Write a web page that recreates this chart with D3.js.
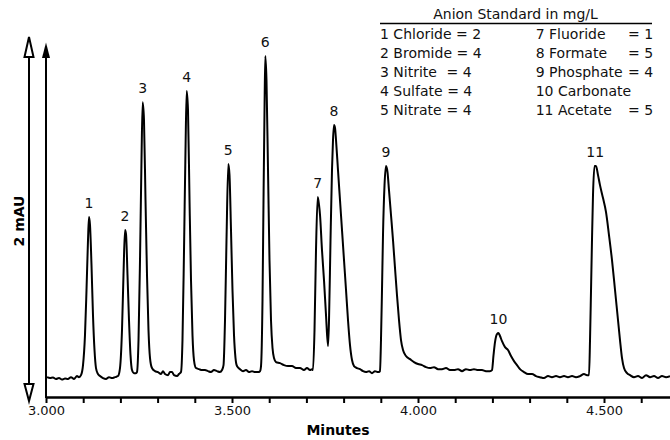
<!DOCTYPE html>
<html>
<head>
<meta charset="utf-8">
<script src="https://cdn.jsdelivr.net/npm/d3@7"></script>
<style>
  body { margin: 0; background: #fff; }
  svg { display: block; font-family: "DejaVu Sans", Verdana, sans-serif; }
</style>
</head>
<body>
<div id="chart-area"></div>
<script>
// chromatogram trace: [minutes, mAU]
const trace = [
  [3.0027,0.005],[3.0108,0],[3.0188,0.003],[3.0269,-0.005],[3.0349,0],[3.0430,-0.008],[3.0511,-0.003],[3.0591,-0.005],
  [3.0672,0.005],[3.0753,-0.005],[3.0833,0.011],[3.0887,0.005],
  [3.0941,0.016],[3.0995,0.071],[3.1048,0.236],[3.1089,0.484],[3.1129,0.758],[3.1156,0.885],[3.1183,0.841],[3.1223,0.621],
  [3.1263,0.346],[3.1304,0.154],[3.1344,0.055],[3.1398,0.022],[3.1452,0.011],
  [3.1532,0],[3.1613,-0.005],[3.1694,0.005],[3.1774,0],[3.1855,0.005],[3.1935,0.011],
  [3.1989,0.055],[3.2043,0.264],[3.2083,0.566],[3.2124,0.813],[3.2151,0.791],[3.2191,0.566],[3.2231,0.319],[3.2272,0.126],
  [3.2312,0.044],[3.2366,0.027],[3.2419,0.027],
  [3.2446,0.033],[3.2487,0.209],[3.2527,0.648],[3.2567,1.198],[3.2599,1.516],[3.2634,1.418],[3.2675,0.978],[3.2715,0.566],
  [3.2755,0.264],[3.2796,0.110],[3.2849,0.055],[3.2930,0.038],
  [3.3011,0.033],[3.3091,0.022],[3.3145,0.038],[3.3199,0.022],[3.3280,0.016],[3.3333,0.033],[3.3387,0.033],[3.3441,0.016],
  [3.3522,0.011],[3.3575,0.022],
  [3.3629,0.033],[3.3669,0.209],[3.3710,0.703],[3.3750,1.253],[3.3782,1.577],[3.3817,1.473],[3.3858,0.978],[3.3898,0.538],
  [3.3938,0.236],[3.3978,0.099],[3.4032,0.055],[3.4113,0.049],
  [3.4194,0.044],[3.4274,0.044],[3.4355,0.038],[3.4435,0.033],[3.4516,0.044],[3.4597,0.038],[3.4677,0.033],[3.4731,0.044],
  [3.4772,0.071],[3.4812,0.319],[3.4852,0.758],[3.4901,1.176],[3.4933,1.115],[3.4973,0.813],[3.5013,0.484],[3.5054,0.236],
  [3.5094,0.110],[3.5134,0.066],[3.5215,0.049],
  [3.5296,0.038],[3.5376,0.044],[3.5457,0.033],[3.5538,0.038],[3.5618,0.033],[3.5699,0.033],[3.5753,0.038],
  [3.5780,0.066],[3.5820,0.429],[3.5847,0.978],[3.5874,1.473],[3.5895,1.769],[3.5927,1.637],[3.5968,1.143],[3.6008,0.648],
  [3.6048,0.319],[3.6089,0.165],[3.6129,0.110],[3.6183,0.088],
  [3.6290,0.082],[3.6398,0.071],[3.6505,0.066],[3.6613,0.066],[3.6720,0.055],[3.6828,0.055],[3.6935,0.044],[3.7016,0.055],
  [3.7097,0.044],[3.7151,0.049],
  [3.7177,0.044],[3.7218,0.264],[3.7258,0.703],[3.7304,0.995],[3.7339,0.951],[3.7366,0.896],[3.7419,0.703],[3.7473,0.538],
  [3.7527,0.346],[3.7581,0.176],
  [3.7608,0.319],[3.7648,0.758],[3.7688,1.143],[3.7715,1.308],[3.7742,1.390],[3.7769,1.374],[3.7796,1.308],[3.7849,1.143],
  [3.7903,0.978],[3.7957,0.813],[3.8011,0.648],[3.8065,0.484],[3.8118,0.319],[3.8172,0.181],[3.8226,0.099],[3.8280,0.066],
  [3.8360,0.055],
  [3.8441,0.049],[3.8522,0.038],[3.8602,0.033],[3.8683,0.038],[3.8763,0.027],[3.8844,0.038],[3.8925,0.033],
  [3.8978,0.038],[3.9005,0.209],[3.9032,0.484],[3.9059,0.786],[3.9100,1.060],[3.9140,1.165],[3.9180,1.132],[3.9220,1.033],
  [3.9274,0.896],[3.9328,0.758],[3.9382,0.604],[3.9435,0.456],[3.9489,0.319],[3.9543,0.209],[3.9597,0.154],[3.9677,0.121],
  [3.9785,0.104],[3.9892,0.088],[4.0000,0.077],[4.0108,0.071],[4.0215,0.060],[4.0323,0.055],[4.0430,0.060],[4.0538,0.049],
  [4.0645,0.049],[4.0753,0.055],[4.0860,0.044],[4.0968,0.044],[4.1075,0.049],[4.1183,0.038],[4.1290,0.049],[4.1398,0.044],
  [4.1505,0.049],[4.1613,0.044],[4.1720,0.044],[4.1828,0.038],[4.1935,0.038],
  [4.1989,0.044],[4.2030,0.126],[4.2070,0.198],[4.2124,0.242],[4.2164,0.247],[4.2204,0.231],[4.2258,0.203],[4.2339,0.170],
  [4.2419,0.154],[4.2500,0.121],[4.2581,0.093],[4.2661,0.071],[4.2742,0.049],[4.2849,0.033],[4.2957,0.022],
  [4.3065,0.022],[4.3172,0.011],[4.3280,0.005],[4.3387,0],[4.3495,0.011],[4.3602,0.005],[4.3710,0.011],[4.3817,0.005],
  [4.3925,0.011],[4.4032,0.005],[4.4140,0.011],[4.4247,0.005],[4.4355,0.011],[4.4462,0.022],[4.4543,0.016],
  [4.4597,0.016],[4.4624,0.209],[4.4651,0.484],[4.4677,0.758],[4.4704,1.005],[4.4745,1.165],[4.4785,1.165],[4.4839,1.115],
  [4.4892,1.060],[4.4973,0.989],[4.5054,0.912],[4.5134,0.786],[4.5215,0.648],[4.5296,0.484],[4.5376,0.319],[4.5430,0.209],
  [4.5484,0.110],[4.5538,0.055],[4.5618,0.027],[4.5699,0.016],
  [4.5806,0.005],[4.5914,0.011],[4.6022,0],[4.6129,0.016],[4.6237,0.005],[4.6344,0.011],[4.6452,0],[4.6559,0.011],
  [4.6667,0.005],[4.6774,0.011]
];

const peakNumbers = ['1', '2', '3', '4', '5', '6', '7', '8', '9', '10', '11'];
const peakTimes = [3.1156, 3.2124, 3.2599, 3.3782, 3.4901, 3.5895, 3.7304, 3.7742, 3.9140, 4.2164, 4.4765];

const legendTitle = 'Anion Standard in mg/L';
const legendNames1 = ['1 Chloride', '2 Bromide', '3 Nitrite', '4 Sulfate', '5 Nitrate'];
const legendValues1 = ['2', '4', '4', '4', '4'];
const legendNames2 = ['7 Fluoride', '8 Formate', '9 Phosphate', '10 Carbonate', '11 Acetate'];
const legendValues2 = ['1', '5', '4', null, '5'];

const xTicks = [3.0, 3.1, 3.2, 3.3, 3.4, 3.5, 3.6, 3.7, 3.8, 3.9, 4.0, 4.1, 4.2, 4.3, 4.4, 4.5, 4.6];
const xLabelTicks = [3.0, 3.5, 4.0, 4.5];
const scaleBarMAU = 2;

const width = 670, height = 440;

const svg = d3.select('#chart-area')
  .append('svg')
  .attr('width', width)
  .attr('height', height);

const x = d3.scaleLinear()
  .domain([3.0, 4.6774])
  .range([46, 670]);

const y = d3.scaleLinear()
  .domain([-0.126, 1.874])
  .range([401, 37]);

const axisY = 397;

// X axis
const xAxis = d3.axisBottom(x)
  .tickValues(xTicks)
  .tickSize(6)
  .tickSizeOuter(0)
  .tickPadding(3)
  .tickFormat((d) => {
    return xLabelTicks.some(v => Math.abs(v - d) < 1e-6) ? d3.format('.3f')(d) : '';
  });

const gx = svg.append('g')
  .attr('transform', 'translate(0, ' + axisY + ')')
  .call(xAxis);

gx.select('.domain').attr('stroke', '#000').attr('stroke-width', 2.5);
gx.selectAll('.tick line').attr('stroke', '#000').attr('stroke-width', 2);
gx.selectAll('.tick text')
  .attr('font-family', '"DejaVu Sans", Verdana, sans-serif')
  .attr('font-size', '13px')
  .attr('fill', '#111');

// X label
svg.append('text')
  .attr('x', 338)
  .attr('y', 434.5)
  .attr('text-anchor', 'middle')
  .attr('font-size', '14px')
  .attr('font-weight', 'bold')
  .text('Minutes');

// Y axis line with filled arrow
const yAxisX = x(3.0);
svg.append('line')
  .attr('x1', yAxisX).attr('x2', yAxisX)
  .attr('y1', axisY + 1).attr('y2', 50)
  .attr('stroke', '#000')
  .attr('stroke-width', 2);
svg.append('path')
  .attr('d', `M${yAxisX},42.5 L${yAxisX - 4},58 L${yAxisX + 4},58 Z`)
  .attr('fill', '#000');

// scale bar (double arrow)
const barX = 29;
const barTop = y(y.domain()[0] + scaleBarMAU);
const barBottom = y(y.domain()[0]);
svg.append('line')
  .attr('x1', barX).attr('x2', barX)
  .attr('y1', barTop + 18).attr('y2', barBottom - 16)
  .attr('stroke', '#000')
  .attr('stroke-width', 2);
svg.append('path')
  .attr('d', `M${barX},${barTop} L${barX - 4.5},${barTop + 20} L${barX + 4.5},${barTop + 20} Z`)
  .attr('fill', '#fff')
  .attr('stroke', '#000')
  .attr('stroke-width', 2)
  .attr('stroke-linejoin', 'miter');
svg.append('path')
  .attr('d', `M${barX},${barBottom} L${barX - 4.5},${barBottom - 17} L${barX + 4.5},${barBottom - 17} Z`)
  .attr('fill', '#fff')
  .attr('stroke', '#000')
  .attr('stroke-width', 2)
  .attr('stroke-linejoin', 'miter');

svg.append('text')
  .attr('transform', 'translate(24, 221) rotate(-90)')
  .attr('text-anchor', 'middle')
  .attr('font-size', '14px')
  .attr('font-weight', 'bold')
  .text(scaleBarMAU + ' mAU');

// trace
const line = d3.line()
  .x(d => x(d[0]))
  .y(d => y(d[1]))
  .curve(d3.curveMonotoneX);

svg.append('path')
  .datum(trace)
  .attr('fill', 'none')
  .attr('stroke', '#000')
  .attr('stroke-width', 2)
  .attr('stroke-linejoin', 'round')
  .attr('d', line);

// peak labels
svg.selectAll('.peak-label')
  .data(peakNumbers)
  .enter()
  .append('text')
  .attr('class', 'peak-label')
  .attr('x', (d, i) => x(peakTimes[i]))
  .attr('y', (d, i) => {
    const near = trace.filter(p => Math.abs(p[0] - peakTimes[i]) < 0.006);
    return y(d3.max(near, p => p[1])) - 9;
  })
  .attr('text-anchor', 'middle')
  .attr('font-size', '14px')
  .attr('fill', '#111')
  .text(d => d);

// legend
const legend = svg.append('g');
legend.append('text')
  .attr('x', 515.5)
  .attr('y', 19)
  .attr('text-anchor', 'middle')
  .attr('font-size', '14px')
  .attr('fill', '#111')
  .text(legendTitle);
legend.append('line')
  .attr('x1', 380).attr('x2', 652)
  .attr('y1', 23.5).attr('y2', 23.5)
  .attr('stroke', '#000')
  .attr('stroke-width', 1.5);

const rowY = (i) => 39.3 + i * 18.85;
const drawColumn = (names, values, colX, alignX) => {
  names.forEach((name, i) => {
    const t = legend.append('text')
      .attr('x', colX)
      .attr('y', rowY(i))
      .attr('font-size', '14px')
      .attr('fill', '#111')
      .text(name);
    if (values[i] === null) return;
    const end = colX + t.node().getComputedTextLength() + 4.5;
    legend.append('text')
      .attr('x', Math.max(end, alignX))
      .attr('y', rowY(i))
      .attr('font-size', '14px')
      .attr('fill', '#111')
      .text('= ' + values[i]);
  });
};
drawColumn(legendNames1, legendValues1, 380, 446.5);
drawColumn(legendNames2, legendValues2, 535.7, 628);
</script>
</body>
</html>
